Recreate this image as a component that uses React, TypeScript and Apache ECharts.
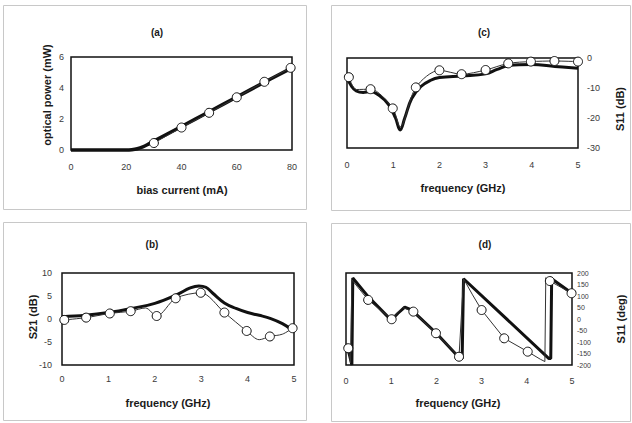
import React, { useEffect, useRef } from "react";
import * as echarts from "echarts";

// (a) optical power vs bias current
const aMeasured: number[][] = [[0, 0], [10, 0], [20, 0], [22, 0.02], [24, 0.08], [26, 0.2], [28, 0.38], [30, 0.58], [40, 1.52], [50, 2.47], [60, 3.42], [70, 4.37], [80, 5.3]];
const aModel: number[][] = [[30, 0.45], [40, 1.45], [50, 2.4], [60, 3.4], [70, 4.4], [79.5, 5.3]];

// (b) S21 (dB) vs frequency
const bMeasured: number[][] = [[0, 0.5], [0.5, 0.8], [1, 1.4], [1.5, 2.3], [2, 3.4], [2.5, 5.4], [2.75, 6.7], [2.95, 7.2], [3.1, 6.9], [3.25, 5.6], [3.5, 3.5], [3.75, 2.3], [4, 1.4], [4.25, 0.8], [4.5, 0.1], [4.75, -1.0], [4.95, -2.3]];
const bModel: number[][] = [[0.05, -0.2], [0.52, 0.3], [1.03, 1.2], [1.48, 1.7], [2.04, 0.65], [2.45, 4.5], [2.99, 5.7], [3.5, 1.4], [3.98, -2.6], [4.48, -3.8], [4.97, -2.0]];
const bModelExtra: number[][] = [[1.8, 2.4], [4.25, -4.5], [4.75, -3.3]];

// (c) S11 (dB) vs frequency
const cMeasured: number[][] = [[0, -6.5], [0.1, -9.5], [0.2, -11], [0.35, -11.5], [0.5, -11.2], [0.7, -12.5], [0.9, -15.5], [1.05, -20], [1.15, -24], [1.25, -20], [1.4, -13.5], [1.6, -9.5], [1.8, -7.5], [2, -6.5], [2.5, -6], [3, -5.3], [3.25, -3.8], [3.5, -2.5], [4, -2.2], [4.5, -2.8], [5, -3.4]];
const cModel: number[][] = [[0.04, -6.4], [0.51, -10.4], [0.99, -16.8], [1.49, -9.8], [2.0, -4.1], [2.48, -5.4], [3.0, -4.0], [3.49, -1.8], [3.98, -1.2], [4.49, -1.0], [5.0, -1.2]];
const cModelExtra: number[][] = [[0.2, -10.5], [1.15, -23]];

// (d) S11 (deg) vs frequency
const dMeasured: number[][] = [[0.05, -135], [0.13, -200], [0.15, 178], [0.5, 95], [1.0, -5], [1.15, 25], [1.3, 52], [1.45, 40], [2.0, -62], [2.52, -172], [2.57, -172], [2.6, 175], [4.49, -172], [4.53, -172], [4.55, 175], [5.0, 112]];
const dModel: number[][] = [[0.05, -127], [0.49, 83], [1.01, -1], [1.49, 32], [1.99, -62], [2.5, -164], [3.0, 39], [3.5, -84], [4.02, -142], [4.51, 165], [4.99, 112]];
const dModelExtra: number[][] = [[0.1, -190], [0.13, 170], [1.25, 50], [2.6, 175], [2.8, 105], [4.3, -175], [4.4, -185], [4.42, 180]];

const FONT = "'Liberation Sans', Arial, sans-serif";

function mergeModel(markers: number[][], extra: number[][]) {
  const all = [
    ...markers.map((p) => ({ value: p })),
    ...extra.map((p) => ({ value: p, symbol: "none" })),
  ];
  all.sort((a, b) => a.value[0] - b.value[0]);
  return all;
}

export default function App() {
  const ref = useRef<HTMLDivElement>(null);
  useEffect(() => {
    if (!ref.current) return;
    const chart = echarts.init(ref.current, undefined, { renderer: "svg" });

    const grids = [
      { left: 71, top: 57, width: 221, height: 93 },
      { left: 62, top: 273, width: 232, height: 92 },
      { left: 347, top: 58, width: 231, height: 90 },
      { left: 346, top: 273, width: 226, height: 92 },
    ].map((g) => ({ ...g, show: true, borderColor: "#111", borderWidth: 1.5, backgroundColor: "transparent", containLabel: false }));

    const axisBase = {
      type: "value",
      axisLine: { show: false },
      axisTick: { show: false },
      splitLine: { show: false },
    };
    const lbl = (margin: number, fontSize = 9) => ({ fontSize, color: "#3a3a3a", margin, fontFamily: FONT });

    const xAxis = [
      { ...axisBase, gridIndex: 0, min: 0, max: 80, interval: 20, axisLabel: lbl(12) },
      { ...axisBase, gridIndex: 1, min: 0, max: 5, interval: 1, axisLabel: lbl(9) },
      { ...axisBase, gridIndex: 2, min: 0, max: 5, interval: 1, axisLabel: lbl(12) },
      { ...axisBase, gridIndex: 3, min: 0, max: 5, interval: 1, axisLabel: lbl(11) },
    ];
    const yAxis = [
      { ...axisBase, gridIndex: 0, min: 0, max: 6, interval: 2, axisLabel: lbl(7) },
      { ...axisBase, gridIndex: 1, min: -10, max: 10, interval: 5, axisLabel: lbl(10) },
      { ...axisBase, gridIndex: 2, min: -30, max: 0, interval: 10, position: "right", axisLabel: lbl(9) },
      { ...axisBase, gridIndex: 3, min: -200, max: 200, interval: 50, position: "right", axisLabel: lbl(5, 7) },
    ];

    const thick = (i: number, data: number[][], smooth: number | boolean, width = 3) => ({
      type: "line",
      xAxisIndex: i,
      yAxisIndex: i,
      data,
      smooth,
      symbol: "none",
      clip: false,
      z: 2,
      lineStyle: { color: "#111", width },
    });
    const model = (i: number, data: any[], smooth: number | boolean) => ({
      type: "line",
      xAxisIndex: i,
      yAxisIndex: i,
      data,
      smooth,
      symbol: "circle",
      symbolSize: 9,
      clip: false,
      z: 3,
      lineStyle: { color: "#333", width: 1 },
      itemStyle: { color: "#fff", borderColor: "#111", borderWidth: 1 },
    });

    const series = [
      thick(0, aMeasured, 0.3, 3.5),
      model(0, aModel.map((p) => ({ value: p })), false),
      thick(1, bMeasured, 0.4),
      model(1, mergeModel(bModel, bModelExtra), 0.3),
      thick(2, cMeasured, 0.4),
      model(2, mergeModel(cModel, cModelExtra), 0.3),
      thick(3, dMeasured, false),
      model(3, mergeModel(dModel, dModelExtra), false),
    ];

    const txt = (text: string, x: number, y: number, size: number, rot = 0) => ({
      type: "text",
      x,
      y,
      rotation: rot,
      z: 10,
      style: {
        text,
        font: `bold ${size}px ${FONT}`,
        fill: "#1a1a1a",
        align: "center",
        verticalAlign: "middle",
      },
    });
    const frame = (x: number, y: number, w: number, h: number) => ({
      type: "rect",
      shape: { x, y, width: w, height: h },
      z: 0,
      style: { fill: "none", stroke: "#c8c8c8", lineWidth: 1 },
    });

    const graphic = [
      frame(3.5, 5.5, 303, 204),
      frame(331.5, 5.5, 299, 205),
      frame(3.5, 222.5, 303, 198),
      frame(331.5, 223.5, 299, 198),
      txt("(a)", 157, 32, 10),
      txt("(c)", 484, 32, 10),
      txt("(b)", 152, 244, 10),
      txt("(d)", 485, 244, 10),
      txt("bias current (mA)", 182, 190, 11),
      txt("optical power (mW)", 47, 95, 11, Math.PI / 2),
      txt("frequency (GHz)", 168, 403, 11),
      txt("S21 (dB)", 33, 317, 11, Math.PI / 2),
      txt("frequency (GHz)", 463, 188, 11),
      txt("S11 (dB)", 620, 109, 11, Math.PI / 2),
      txt("frequency (GHz)", 458, 403, 11),
      txt("S11 (deg)", 621, 319, 11, Math.PI / 2),
    ];

    chart.setOption({
      animation: false,
      backgroundColor: "#fff",
      textStyle: { fontFamily: FONT },
      grid: grids,
      xAxis,
      yAxis,
      series,
      graphic,
    });
    return () => chart.dispose();
  }, []);
  return (
    <div
      ref={ref}
      style={{ position: "absolute", left: 0, top: 0, width: 632, height: 423, background: "#fff" }}
    />
  );
}
